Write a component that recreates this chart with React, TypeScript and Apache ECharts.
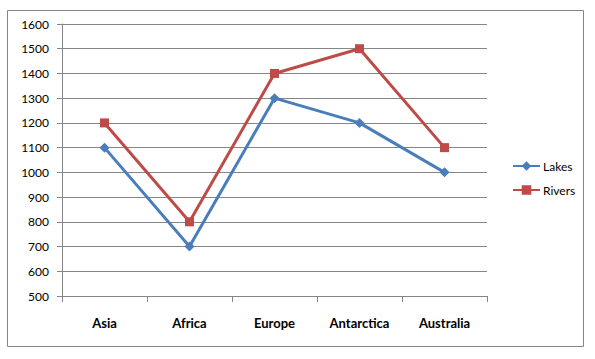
import React, { useEffect, useRef } from "react";
import * as echarts from "echarts";

const categories = ["Asia", "Africa", "Europe", "Antarctica", "Australia"];
const lakes = [1100, 700, 1300, 1200, 1000];
const rivers = [1200, 800, 1400, 1500, 1100];
const yMin = 500;
const yMax = 1600;
const yInterval = 100;

export default function App() {
  const ref = useRef<HTMLDivElement>(null);
  useEffect(() => {
    const chart = echarts.init(ref.current!, null, { renderer: "svg" });
    const font = "Lato, 'Open Sans', 'Liberation Sans', sans-serif";
    chart.setOption({
      animation: false,
      backgroundColor: "#ffffff",
      textStyle: { fontFamily: font },
      graphic: [
        {
          type: "rect",
          shape: { x: 7.5, y: 10.5, width: 576, height: 336 },
          style: { fill: "none", stroke: "#868686", lineWidth: 1 },
          silent: true,
        },
      ],
      grid: { left: 62, right: 108, top: 24, bottom: 63 },
      legend: {
        orient: "vertical",
        left: 507,
        top: 155,
        itemWidth: 27,
        itemHeight: 12,
        itemGap: 12,
        textStyle: { fontSize: 12, color: "#000", fontFamily: font, padding: [0, 0, 0, -2] },
        data: ["Lakes", "Rivers"],
      },
      xAxis: {
        type: "category",
        data: categories,
        boundaryGap: true,
        axisLine: { lineStyle: { color: "#868686", width: 1 } },
        axisTick: { show: true, length: 6, alignWithLabel: false, lineStyle: { color: "#868686" } },
        axisLabel: { color: "#000", fontSize: 13, fontWeight: "bold", margin: 20, fontFamily: font },
      },
      yAxis: {
        type: "value",
        min: yMin,
        max: yMax,
        interval: yInterval,
        axisLine: { show: true, lineStyle: { color: "#868686", width: 1 } },
        axisTick: { show: true, length: 5, lineStyle: { color: "#868686" } },
        axisLabel: {
          color: "#000",
          fontSize: 12,
          margin: 13,
          fontFamily: font,
          formatter: (v: number) => String(v),
        },
        splitLine: { show: true, lineStyle: { color: "#868686", width: 1 } },
      },
      series: [
        {
          name: "Lakes",
          type: "line",
          data: lakes,
          symbol: "diamond",
          symbolSize: 10,
          lineStyle: { color: "#4A7EBB", width: 3 },
          itemStyle: { color: "#4A7EBB" },
        },
        {
          name: "Rivers",
          type: "line",
          data: rivers,
          symbol: "rect",
          symbolSize: 9,
          lineStyle: { color: "#BE4B48", width: 3 },
          itemStyle: { color: "#BE4B48" },
        },
      ],
    });
    return () => chart.dispose();
  }, []);
  return (
    <div
      ref={ref}
      style={{ position: "absolute", left: 0, top: 0, width: 595, height: 359 }}
    />
  );
}
